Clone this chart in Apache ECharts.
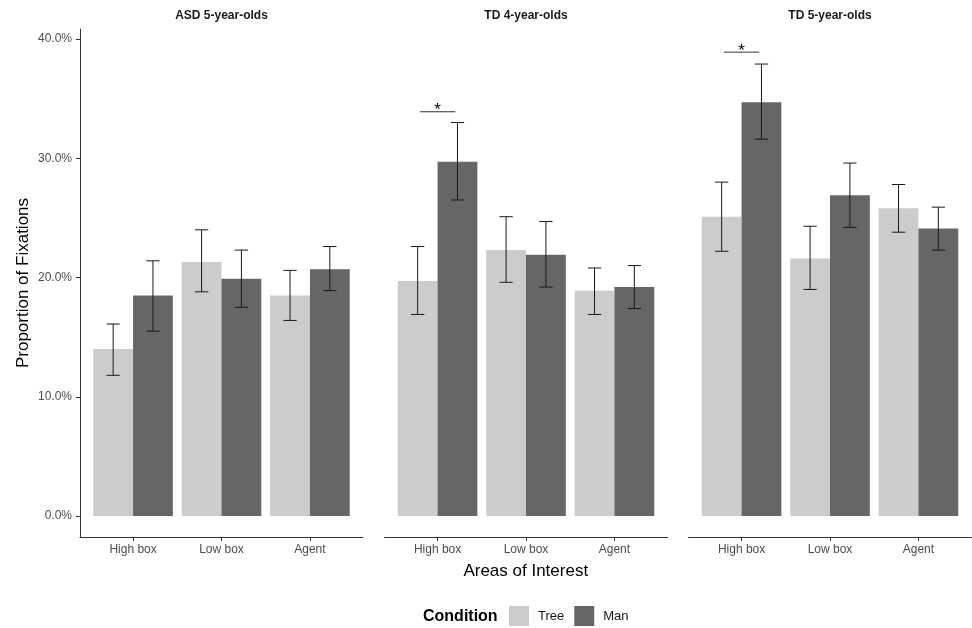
<!DOCTYPE html>
<html>
<head>
<meta charset="utf-8">
<script src="https://cdn.jsdelivr.net/npm/echarts@6/dist/echarts.min.js"></script>
<style>
html,body{margin:0;padding:0;background:#fff;}
#chart{width:972px;height:628px;}
</style>
</head>
<body>
<div id="chart"></div>
<script>
// ---- data ----
const categories = ['High box', 'Low box', 'Agent'];
const panels = ['ASD 5-year-olds', 'TD 4-year-olds', 'TD 5-year-olds'];
const conditions = ['Tree', 'Man'];
const yTicks = [0, 0.1, 0.2, 0.3, 0.4];

// per panel: [High box, Low box, Agent]
const treeMean = [[0.140, 0.213, 0.185], [0.197, 0.223, 0.189], [0.251, 0.216, 0.258]];
const treeLow  = [[0.118, 0.188, 0.164], [0.169, 0.196, 0.169], [0.222, 0.190, 0.238]];
const treeHigh = [[0.161, 0.240, 0.206], [0.226, 0.251, 0.208], [0.280, 0.243, 0.278]];
const manMean  = [[0.185, 0.199, 0.207], [0.297, 0.219, 0.192], [0.347, 0.269, 0.241]];
const manLow   = [[0.155, 0.175, 0.189], [0.265, 0.192, 0.174], [0.316, 0.242, 0.223]];
const manHigh  = [[0.214, 0.223, 0.226], [0.330, 0.247, 0.210], [0.379, 0.296, 0.259]];

// significance brackets
const sigPanel = [1, 2];
const sigX0 = [0.8, 0.8];
const sigX1 = [1.2, 1.2];
const sigY = [0.339, 0.389];
const sigLabel = ['*', '*'];

// ---- layout ----
const colors = { Tree: '#cccccc', Man: '#666666' };
const gridLefts = [80, 384.5, 688.5];
const gridWidth = 283;
const gridTop = 29;
const gridHeight = 508;
const xMin = 0.4, xMax = 3.6;
const yMin = -0.0176, yMax = 0.4084;
const dodge = 0.45;
const capHalf = 0.075;

const chart = echarts.init(document.getElementById('chart'), null, { renderer: 'canvas' });

const grids = [], xAxes = [], yAxes = [], series = [];

panels.forEach((p, i) => {
  grids.push({ left: gridLefts[i], top: gridTop, width: gridWidth, height: gridHeight, containLabel: false, outerBoundsMode: 'none' });
  xAxes.push({
    type: 'value', gridIndex: i, min: xMin, max: xMax,
    axisLine: { show: true, onZero: false, lineStyle: { color: '#333333', width: 1 } },
    axisTick: { show: true, customValues: [1, 2, 3], length: 4, lineStyle: { color: '#333333' } },
    axisLabel: { show: true, customValues: [1, 2, 3], formatter: v => categories[Math.round(v) - 1], color: '#4d4d4d', fontSize: 12, margin: 7, fontFamily: 'Liberation Sans' },
    splitLine: { show: false }
  });
  yAxes.push({
    type: 'value', gridIndex: i, min: yMin, max: yMax, show: i === 0,
    axisLine: { show: true, onZero: false, lineStyle: { color: '#333333', width: 1 } },
    axisTick: { show: true, customValues: yTicks, length: 4, lineStyle: { color: '#333333' } },
    axisLabel: { show: true, customValues: yTicks, formatter: v => (v * 100).toFixed(1) + '%', color: '#4d4d4d', fontSize: 12, margin: 8, fontFamily: 'Liberation Sans' },
    splitLine: { show: false },
    name: i === 0 ? 'Proportion of Fixations' : '',
    nameLocation: 'middle', nameGap: 48,
    nameTextStyle: { fontSize: 17, color: '#000', fontFamily: 'Liberation Sans' }
  });

  const condData = {
    Tree: { mean: treeMean[i], low: treeLow[i], high: treeHigh[i], side: -1 },
    Man:  { mean: manMean[i],  low: manLow[i],  high: manHigh[i],  side: 1 }
  };

  conditions.forEach(c => {
    const d = condData[c];
    series.push({
      type: 'custom', name: c, xAxisIndex: i, yAxisIndex: i,
      itemStyle: { color: colors[c] },
      encode: { x: 0, y: 1 },
      data: d.mean.map((m, k) => [k + 1, m]),
      renderItem: (params, api) => {
        const x = api.value(0), y = api.value(1);
        const xa = d.side < 0 ? x - dodge : x;
        const xb = d.side < 0 ? x : x + dodge;
        const p0 = api.coord([xa, y]);
        const p1 = api.coord([xb, 0]);
        return { type: 'rect', shape: { x: p0[0], y: p0[1], width: p1[0] - p0[0], height: p1[1] - p0[1] }, style: { fill: colors[c] } };
      }
    });
  });

  conditions.forEach(c => {
    const d = condData[c];
    series.push({
      type: 'custom', name: c + ' error', xAxisIndex: i, yAxisIndex: i,
      encode: { x: 0, y: [1, 2] },
      data: d.low.map((lo, k) => [k + 1 + d.side * dodge / 2, lo, d.high[k]]),
      renderItem: (params, api) => {
        const x = api.value(0), lo = api.value(1), hi = api.value(2);
        const a = api.coord([x, lo]), b = api.coord([x, hi]);
        const l = api.coord([x - capHalf, lo]), r = api.coord([x + capHalf, lo]);
        const style = { stroke: '#1a1a1a', lineWidth: 1 };
        return { type: 'group', children: [
          { type: 'line', shape: { x1: a[0], y1: a[1], x2: b[0], y2: b[1] }, style },
          { type: 'line', shape: { x1: l[0], y1: a[1], x2: r[0], y2: a[1] }, style },
          { type: 'line', shape: { x1: l[0], y1: b[1], x2: r[0], y2: b[1] }, style }
        ]};
      }
    });
  });
});

// significance markers
sigPanel.forEach((pi, j) => {
  series.push({
    type: 'custom', name: 'sig' + j, xAxisIndex: pi, yAxisIndex: pi,
    encode: { x: [0, 1], y: 2 },
    data: [[sigX0[j], sigX1[j], sigY[j]]],
    renderItem: (params, api) => {
      const a = api.coord([api.value(0), api.value(2)]);
      const b = api.coord([api.value(1), api.value(2)]);
      return { type: 'group', children: [
        { type: 'line', shape: { x1: a[0], y1: a[1], x2: b[0], y2: b[1] }, style: { stroke: '#333333', lineWidth: 1 } },
        { type: 'text', style: { text: sigLabel[j], x: (a[0] + b[0]) / 2, y: a[1] - 1, align: 'center', verticalAlign: 'middle', fontSize: 17, fontFamily: 'Liberation Sans', fill: '#000' } }
      ]};
    }
  });
});

const graphics = panels.map((p, i) => ({
  type: 'text',
  x: gridLefts[i] + gridWidth / 2, y: 16,
  style: { text: p, align: 'center', verticalAlign: 'middle', fontSize: 12, fontWeight: 'bold', fontFamily: 'Liberation Sans', fill: '#1a1a1a' }
}));
graphics.push({
  type: 'text', x: (gridLefts[0] + gridLefts[2] + gridWidth) / 2, y: 571,
  style: { text: 'Areas of Interest', align: 'center', verticalAlign: 'middle', fontSize: 17, fontFamily: 'Liberation Sans', fill: '#000' }
});
graphics.push({
  type: 'text', x: 423, y: 617,
  style: { text: 'Condition', align: 'left', verticalAlign: 'middle', fontSize: 16, fontWeight: 'bold', fontFamily: 'Liberation Sans', fill: '#000' }
});

chart.setOption({
  backgroundColor: '#ffffff',
  animation: false,
  grid: grids,
  xAxis: xAxes,
  yAxis: yAxes,
  legend: {
    data: conditions.map(c => ({ name: c, icon: 'rect', itemStyle: { color: colors[c] } })),
    left: 509, top: 606, padding: 0, itemWidth: 20, itemHeight: 20, itemGap: 10, orient: 'horizontal',
    textStyle: { fontSize: 13, color: '#1a1a1a', fontFamily: 'Liberation Sans', padding: [0, 0, 0, 4] }
  },
  graphic: graphics,
  series: series
});
</script>
</body>
</html>
